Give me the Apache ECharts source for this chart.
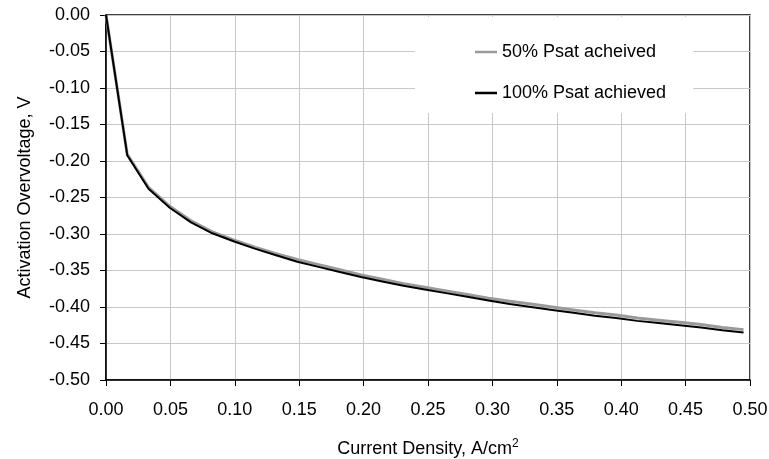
<!DOCTYPE html>
<html>
<head>
<meta charset="utf-8">
<script src="https://cdn.jsdelivr.net/npm/echarts@6/dist/echarts.min.js"></script>
<style>
  html, body { margin: 0; padding: 0; background: #fff; }
  #main { width: 769px; height: 459px; }
</style>
</head>
<body>
<div id="main"></div>
<script>
// current density, A/cm2
var currentDensity = [0, 0.0165, 0.033, 0.0495, 0.066, 0.0825, 0.099, 0.1155, 0.132, 0.1485,
  0.165, 0.1815, 0.198, 0.2145, 0.231, 0.2475, 0.264, 0.2805, 0.297, 0.3135,
  0.33, 0.3465, 0.363, 0.3795, 0.396, 0.4125, 0.429, 0.4455, 0.462, 0.4785, 0.495];

// activation overvoltage, V
var psat50 = [0, -0.191, -0.236, -0.262, -0.282, -0.297, -0.308, -0.318, -0.327, -0.335,
  -0.342, -0.349, -0.356, -0.362, -0.368, -0.373, -0.378, -0.383, -0.388, -0.392,
  -0.396, -0.400, -0.404, -0.408, -0.411, -0.415, -0.418, -0.421, -0.424, -0.428, -0.431];

var psat100 = [0, -0.192, -0.238, -0.264, -0.284, -0.299, -0.310, -0.320, -0.329, -0.338,
  -0.345, -0.352, -0.359, -0.365, -0.371, -0.376, -0.381, -0.386, -0.391, -0.396,
  -0.400, -0.404, -0.408, -0.412, -0.415, -0.419, -0.422, -0.425, -0.428, -0.432, -0.435];

var seriesNames = ["50% Psat acheived", "100% Psat achieved"];

function pairs(xs, ys) {
  return xs.map(function (x, i) { return [x, ys[i]]; });
}

var font = "Liberation Sans, Arial, sans-serif";
var myChart = echarts.init(document.getElementById("main"));
myChart.setOption({
  animation: false,
  textStyle: { fontFamily: font },
  grid: {
    left: 106, right: 19, top: 15, bottom: 79,
    outerBoundsMode: "none",
    show: true, borderColor: "#000", borderWidth: 1.5
  },
  legend: {
    orient: "vertical",
    left: 415, top: 17,
    padding: [26, 27, 11, 60],
    itemGap: 23,
    itemWidth: 22, itemHeight: 14,
    icon: "path://M0,0H22V2.5H0Z",
    backgroundColor: "#fff",
    textStyle: { fontFamily: font, fontSize: 18, color: "#000" },
    data: seriesNames
  },
  xAxis: {
    type: "value",
    min: 0, max: 0.5, interval: 0.05,
    name: "{a|Current Density, A/cm}{s|2}",
    nameLocation: "middle",
    nameGap: 58,
    nameTextStyle: {
      rich: {
        a: { fontFamily: font, fontSize: 18, color: "#000" },
        s: { fontFamily: font, fontSize: 12, color: "#000", verticalAlign: "top", padding: [0, 0, 10, 0] }
      }
    },
    axisLine: { onZero: false, lineStyle: { color: "#000", width: 1.5 } },
    axisTick: { show: true, length: 6, lineStyle: { color: "#000" } },
    axisLabel: {
      fontFamily: font, fontSize: 18, color: "#000", margin: 21,
      formatter: function (v) { return v.toFixed(2); }
    },
    splitLine: { lineStyle: { color: "#c8c8c8", width: 1 } }
  },
  yAxis: {
    type: "value",
    min: -0.5, max: 0, interval: 0.05,
    name: "Activation Overvoltage, V",
    nameLocation: "middle",
    nameGap: 72,
    nameTextStyle: { fontFamily: font, fontSize: 18, color: "#000" },
    axisLine: { show: true, onZero: false, lineStyle: { color: "#000", width: 1.5 } },
    axisTick: { show: true, length: 6, lineStyle: { color: "#000" } },
    axisLabel: {
      fontFamily: font, fontSize: 18, color: "#000", margin: 16,
      formatter: function (v) { return v.toFixed(2); }
    },
    splitLine: { lineStyle: { color: "#c8c8c8", width: 1 } }
  },
  series: [
    {
      name: seriesNames[0],
      type: "line",
      symbol: "none",
      data: pairs(currentDensity, psat50),
      lineStyle: { color: "#9a9a9a", width: 3 },
      itemStyle: { color: "#9a9a9a" }
    },
    {
      name: seriesNames[1],
      type: "line",
      symbol: "none",
      data: pairs(currentDensity, psat100),
      lineStyle: { color: "#000", width: 2 },
      itemStyle: { color: "#000" }
    }
  ]
});
window.addEventListener("resize", function () {
  myChart.resize();
});
</script>
</body>
</html>
